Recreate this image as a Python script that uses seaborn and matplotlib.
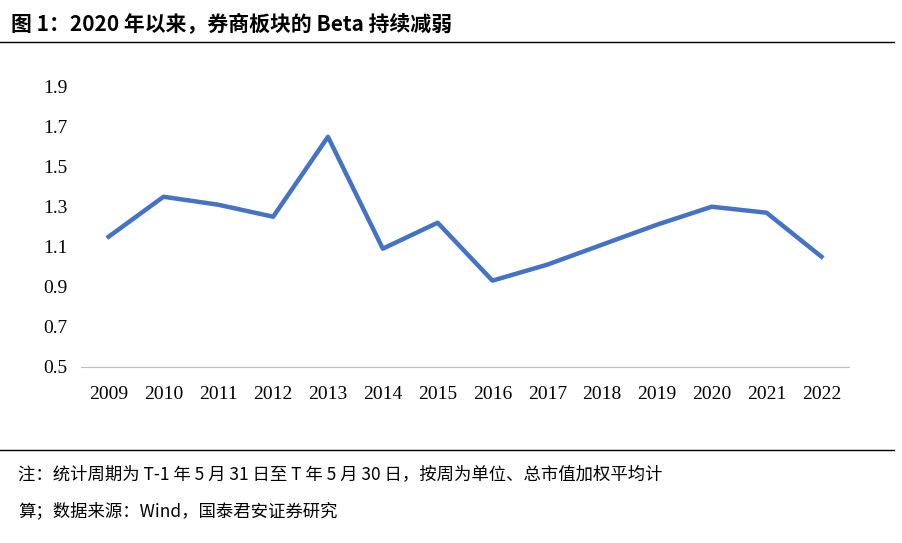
import pandas as pd
import seaborn as sns
import matplotlib.pyplot as plt
from matplotlib.lines import Line2D

years = ['2009', '2010', '2011', '2012', '2013', '2014', '2015', '2016',
         '2017', '2018', '2019', '2020', '2021', '2022']
beta = [1.15, 1.35, 1.31, 1.25, 1.65, 1.09, 1.22, 0.93,
        1.01, 1.11, 1.21, 1.30, 1.27, 1.05]
y_ticks = [0.5, 0.7, 0.9, 1.1, 1.3, 1.5, 1.7, 1.9]

df = pd.DataFrame({'year': years, 'beta': beta})

fig = plt.figure(figsize=(9.03, 5.43), dpi=100)
ax = fig.add_axes([0.09, 0.325, 0.85, 0.515])

sns.lineplot(data=df, x='year', y='beta', ax=ax, color='#4472C4', linewidth=3.2, sort=False)

ax.set_ylim(0.5, 1.9)
ax.set_yticks(y_ticks)
ax.set_yticklabels([f'{v:.1f}' for v in y_ticks])
ax.set_xlim(-0.5, len(years) - 0.5)
ax.set_xlabel('')
ax.set_ylabel('')
for s in ['top', 'right', 'left']:
    ax.spines[s].set_visible(False)
ax.spines['bottom'].set_color('#BFBFBF')
ax.tick_params(axis='both', length=0, labelsize=14)
ax.tick_params(axis='x', pad=14)
ax.tick_params(axis='y', pad=10)
for lab in ax.get_xticklabels() + ax.get_yticklabels():
    lab.set_fontfamily('Liberation Serif')

# title and notes
fig.text(0.012, 0.955, '图 1：2020 年以来，券商板块的 Beta 持续减弱', fontsize=15,
         fontweight='bold', fontfamily='Noto Sans CJK SC', va='center')
fig.add_artist(Line2D([0.0, 0.99], [0.922, 0.922], color='black', lw=1))
fig.add_artist(Line2D([0.0, 0.99], [0.172, 0.172], color='black', lw=1))
fig.text(0.02, 0.125, '注：统计周期为 T-1 年 5 月 31 日至 T 年 5 月 30 日，按周为单位、总市值加权平均计',
         fontsize=12.5, fontfamily='Noto Sans CJK SC', va='center')
fig.text(0.02, 0.058, '算；数据来源：Wind，国泰君安证券研究',
         fontsize=12.5, fontfamily='Noto Sans CJK SC', va='center')

plt.savefig('out.png', dpi=100)
